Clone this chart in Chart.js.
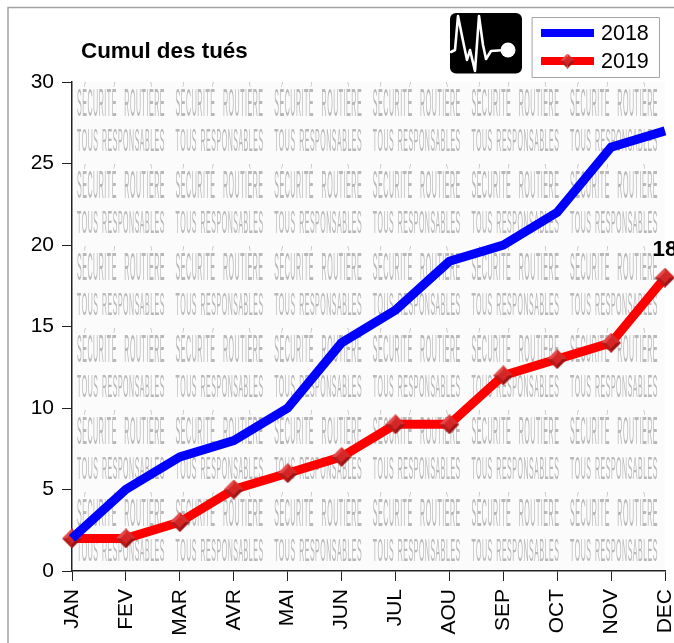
<!DOCTYPE html>
<html><head><meta charset="utf-8">
<style>html,body{margin:0;padding:0;background:#fff}canvas{display:block}</style>
<script src="https://cdn.jsdelivr.net/npm/chart.js@4"></script></head>
<body><div style="width:674px;height:643px"><canvas id="c" width="674" height="643"></canvas></div>
<script>
const months = ['JAN','FEV','MAR','AVR','MAI','JUN','JUL','AOU','SEP','OCT','NOV','DEC'];
const values2018 = [2,5,7,8,10,14,16,19,20,22,26,27];
const values2019 = [2,2,3,5,6,7,9,9,12,13,14,18];
const seriesNames = ['2018','2019'];
const chartTitle = 'Cumul des tués';
const wmLine1 = 'SÉCURITÉ ROUTIÈRE';
const wmLine2 = 'TOUS RESPONSABLES';
const FONT = '"Liberation Sans", Arial, sans-serif';

function makeDiamond(size){
  const s=document.createElement('canvas');s.width=s.height=size;
  const x=s.getContext('2d'),r=size/2,q=r*.55;
  const tri=(col,ax,ay,bx,by)=>{x.fillStyle=col;x.beginPath();x.moveTo(ax,ay);x.lineTo(bx,by);x.lineTo(r,r);x.closePath();x.fill();};
  tri('#e24a4a',0,r,r,0);
  tri('#d42c2c',r,0,size,r);
  tri('#9c1414',size,r,r,size);
  tri('#b51a1a',r,size,0,r);
  x.fillStyle='#d42626';x.beginPath();x.moveTo(r,r-q);x.lineTo(r+q,r);x.lineTo(r,r+q);x.lineTo(r-q,r);x.closePath();x.fill();
  return s;
}
const diamond=makeDiamond(20), diamondSmall=makeDiamond(15);

const decor={id:'decor',
 afterLayout(ch){
  const a=ch.chartArea,x=ch.scales.x,right=665;
  a.right=right;a.width=right-a.left;
  x.right=right;x.width=right-x.left;x.configure();
 },
 beforeDraw(ch){
  const c=ch.ctx,a=ch.chartArea;
  c.save();
  c.strokeStyle='#a4a4a4';c.lineWidth=1.5;
  c.beginPath();c.moveTo(8,643);c.lineTo(8,7.5);c.lineTo(674,7.5);c.stroke();
  c.fillStyle='#fbfbfb';c.fillRect(a.left+2,a.top,a.right-a.left-2,a.bottom-a.top);
  c.beginPath();c.rect(a.left+2,a.top,a.right-a.left-2,a.bottom-a.top);c.clip();
  c.filter='blur(0.75px)';
  c.fillStyle='#b8b8b8';
  c.textAlign='left';c.textBaseline='alphabetic';
  c.font='20px '+FONT;
  c.letterSpacing='1.5px';c.wordSpacing='14px';
  const tw=98.6,th=82,fit=88;
  const s1=fit/c.measureText(wmLine1).width;
  c.wordSpacing='3px';
  const s2=fit/c.measureText(wmLine2).width;
  for(let j=0;j<6;j++)for(let i=0;i<6;i++){
    const x=77+i*tw,y=83+j*th;
    c.wordSpacing='14px';
    c.save();c.translate(x,y+33);c.scale(s1,1.95);c.fillText(wmLine1,0,0);c.restore();
    c.wordSpacing='3px';
    c.save();c.translate(x,y+68);c.scale(s2,1.6);c.fillText(wmLine2,0,0);c.restore();
  }
  c.restore();
 },
 afterDraw(ch){
  const c=ch.ctx;
  c.save();
  c.fillStyle='#000';c.font='bold 22.4px '+FONT;c.textAlign='left';c.textBaseline='alphabetic';
  c.fillText(chartTitle,81,58);
  const m=ch.getDatasetMeta(1).data[11];
  c.textAlign='center';c.fillText(String(values2019[11]),m.x,m.y-22);
  // icon
  c.fillStyle='#000';c.beginPath();c.roundRect(450,13,72,60.5,6);c.fill();
  c.strokeStyle='#fff';c.lineWidth=2.6;c.lineJoin='round';c.lineCap='round';
  c.beginPath();c.moveTo(451,52);c.lineTo(455,50);c.lineTo(458,16);c.lineTo(462,36);c.lineTo(467,60);c.lineTo(470,50);c.lineTo(475,71);c.lineTo(479,16);c.lineTo(483,45);c.lineTo(486,59);c.lineTo(491,51);c.lineTo(505,50);c.stroke();
  c.fillStyle='#fff';c.beginPath();c.arc(508,50,7.5,0,Math.PI*2);c.fill();
  // legend
  c.fillStyle='#fff';c.fillRect(532.5,17.5,127,60);
  c.strokeStyle='#a4a4a4';c.lineWidth=1;c.strokeRect(532.5,17.5,127,60);
  c.fillStyle=ch.data.datasets[0].borderColor;c.fillRect(541,29,53,8);
  c.fillStyle=ch.data.datasets[1].borderColor;c.fillRect(541,57,53,8);
  c.drawImage(diamondSmall,560,53.5);
  c.fillStyle='#000';c.font='21.5px '+FONT;c.textAlign='left';c.textBaseline='middle';
  c.fillText(ch.data.datasets[0].label,601,34);
  c.fillText(ch.data.datasets[1].label,601,62);
  c.restore();
 }};

new Chart(document.getElementById('c'),{
 type:'line',
 data:{labels:months,datasets:[
  {label:seriesNames[0],data:values2018,borderColor:'#0000ff',borderWidth:9,pointRadius:0,tension:0,clip:false,borderJoinStyle:'miter'},
  {label:seriesNames[1],data:values2019,borderColor:'#ff0000',borderWidth:9,pointStyle:diamond,pointRadius:10,tension:0,clip:false,borderJoinStyle:'miter'}
 ]},
 options:{responsive:false,animation:false,
  layout:{autoPadding:false,padding:{top:82,right:9,left:0,bottom:0}},
  plugins:{legend:{display:false},title:{display:false},tooltip:{enabled:false}},
  scales:{
   x:{type:'category',offset:false,
    grid:{display:true,drawTicks:true,tickLength:10,drawOnChartArea:false,color:'#222'},
    border:{color:'#222',width:1.5},
    ticks:{color:'#000',font:{size:21,family:FONT},minRotation:90,maxRotation:90,autoSkip:false,padding:8},
    afterFit(s){s.height=72;}},
   y:{min:0,max:30,
    grid:{drawOnChartArea:false,tickLength:10,color:'#222'},
    border:{color:'#222',width:1.5},
    ticks:{color:'#000',font:{size:21,family:FONT},stepSize:5,padding:8},
    afterFit(s){s.width=72;}}
  }},
 plugins:[decor]
});
</script></body></html>
